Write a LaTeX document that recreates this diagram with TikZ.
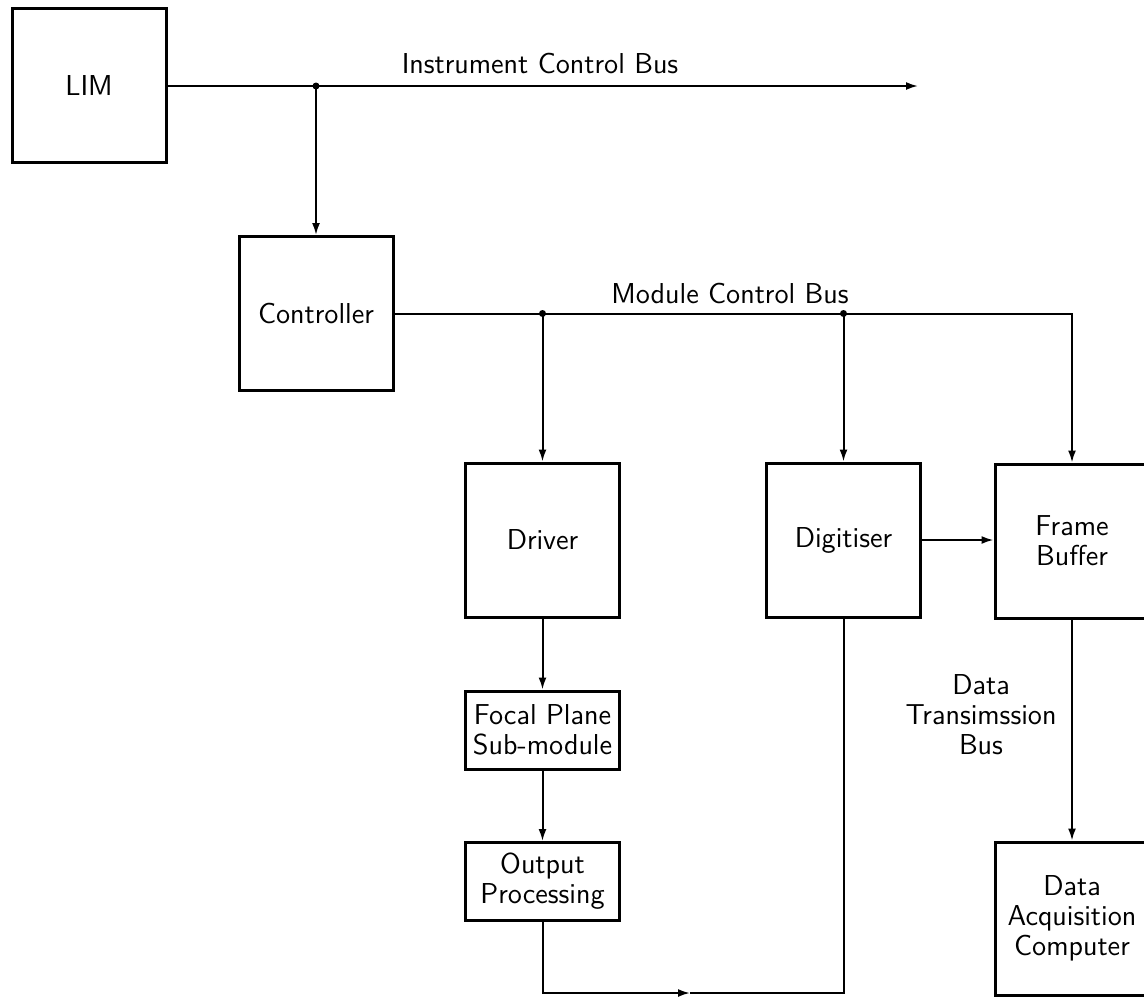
\documentclass[tikz,border=0pt]{standalone}
\usepackage{fontspec}
\usetikzlibrary{arrows.meta}
\tikzset{
  txt/.style={font=\sffamily\fontsize{14.4}{15}\selectfont},
  box/.style={txt,draw,line width=1.5pt,minimum width=77pt,minimum height=77pt,inner sep=0pt,align=center},
  smallbox/.style={box,minimum height=39pt},
  conn/.style={line width=1pt},
  arr/.style={conn,-{Latex[length=6pt,width=4pt]}},
  lbl/.style={txt,align=center,inner sep=0pt},
  junc/.style={circle,fill,inner sep=0pt,minimum size=3.5pt}
}
\begin{document}
\begin{tikzpicture}[x=0.5pt,y=-0.5pt]
\useasboundingbox (0,0) rectangle (1144,997);
% boxes
\node[box] (lim) at (89,85.5) {LIM};
\node[box] (ctl) at (316,313.5) {Controller};
\node[box] (drv) at (542.5,540) {Driver};
\node[box] (dig) at (843.5,540) {Digitiser};
\node[box] (fb) at (1072,541) {Frame\\Buffer};
\node[smallbox] (fp) at (542.5,730) {Focal Plane\\Sub-module};
\node[smallbox] (op) at (542.5,881.5) {Output\\Processing};
\node[box,minimum height=76.5pt] (dac) at (1072,918.5) {Data\\Acquisition\\Computer};
% labels
\node[lbl] (icbl) at (540,64) {Instrument Control Bus};
\node[lbl] (mcbl) at (730,293) {Module Control Bus};
\node[lbl] (dtbl) at (981,715) {Data\\Transimssion\\Bus};
% instrument control bus
\coordinate (icbend) at (918,86);
\coordinate (j1) at (ctl.north |- icbend);
\draw[arr] (lim.east |- icbend) -- (icbend);
\draw[arr] (j1) -- (ctl.north);
\node[junc] (dot1) at (j1) {};
% module control bus
\coordinate (mcb) at (ctl.east);
\coordinate (j2) at (drv.north |- mcb);
\coordinate (j3) at (dig.north |- mcb);
\draw[arr] (ctl.east) -| (fb.north);
\draw[arr] (j2) -- (drv.north);
\draw[arr] (j3) -- (dig.north);
\node[junc] (dot2) at (j2) {};
\node[junc] (dot3) at (j3) {};
% data path
\draw[arr] (dig.east) -- (fb.west |- dig.east);
\draw[arr] (fb.south) -- (dac.north);
\draw[arr] (drv.south) -- (fp.north);
\draw[arr] (fp.south) -- (op.north);
\coordinate (bmid) at (690,993);
\draw[arr] (op.south) |- (bmid);
\draw[conn] (bmid) -| (dig.south);
\end{tikzpicture}
\end{document}
